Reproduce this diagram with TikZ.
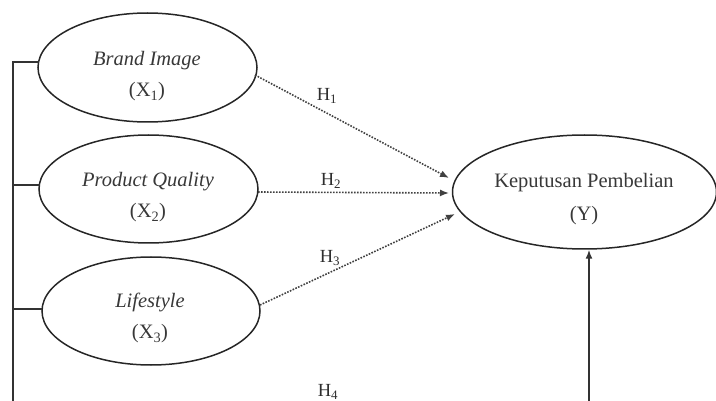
\documentclass[tikz,border=0pt]{standalone}
\usepackage{fontspec}
\setmainfont{Liberation Serif}
\usetikzlibrary{shapes.geometric,arrows.meta}
\begin{document}
\begin{tikzpicture}[x=1pt,y=-1pt,
  varell/.style={draw=black!85,line width=1.5pt,ellipse,inner sep=0pt},
  lbl/.style={font=\fontsize{20.5}{24}\selectfont,text=black!78,inner sep=0pt},
  hlbl/.style={font=\fontsize{18.5}{22}\selectfont,text=black!82,inner sep=0pt},
  hyp/.style={dash pattern=on 1.6pt off 1.4pt,line width=1.6pt,draw=black!75,-{Latex[length=9pt,width=7pt]}},
  frame/.style={line width=1.6pt,draw=black!80}]
\useasboundingbox (0,0) rectangle (716,401);
\clip (0,0) rectangle (716,401);
% ellipses
\node[varell,minimum width=219pt,minimum height=109pt] (x1) at (147.5,67.5) {};
\node[varell,minimum width=219pt,minimum height=108pt] (x2) at (148.5,189) {};
\node[varell,minimum width=218pt,minimum height=108pt] (x3) at (151,311) {};
\node[varell,minimum width=264pt,minimum height=114pt] (y) at (584.5,192) {};
% texts
\node[lbl] (t1a) at (147,61) {\itshape Brand Image};
\node[lbl] (t1b) at (147,92) {(X\textsubscript{1})};
\node[lbl] (t2a) at (148,182) {\itshape Product Quality};
\node[lbl] (t2b) at (148,213) {(X\textsubscript{2})};
\node[lbl] (t3a) at (150,302) {\itshape Lifestyle};
\node[lbl] (t3b) at (150,334) {(X\textsubscript{3})};
\node[lbl] (tya) at (584,183) {Keputusan Pembelian};
\node[lbl] (tyb) at (584,216) {(Y)};
% hypothesis labels
\node[hlbl] (h1) at (327,96) {H\textsubscript{1}};
\node[hlbl] (h2) at (331,181) {H\textsubscript{2}};
\node[hlbl] (h3) at (330,258) {H\textsubscript{3}};
\node[hlbl] (h4) at (328,392) {H\textsubscript{4}};
% coordinates
\coordinate (a1s) at (255,75);
\coordinate (a1e) at (449,178);
\coordinate (a2s) at (258,192);
\coordinate (a2e) at (449,193);
\coordinate (a3s) at (260,305);
\coordinate (a3e) at (455,214);
\draw[hyp] (a1s) -- (a1e);
\draw[hyp] (a2s) -- (a2e);
\draw[hyp] (a3s) -- (a3e);
% frame lines
\coordinate (lb) at (13,402);
\coordinate (lt) at (13,62);
\coordinate (s1) at (38.5,62);
\coordinate (l2) at (13,185);
\coordinate (s2) at (40,185);
\coordinate (l3) at (13,309);
\coordinate (s3) at (42,309);
\draw[frame] (lb) -- (lt) -- (s1);
\draw[frame] (l2) -- (s2);
\draw[frame] (l3) -- (s3);
\coordinate (vb) at (589,402);
\draw[frame,-{Latex[length=9pt,width=7pt]}] (vb) -- (y.south -| vb);
\end{tikzpicture}
\end{document}
